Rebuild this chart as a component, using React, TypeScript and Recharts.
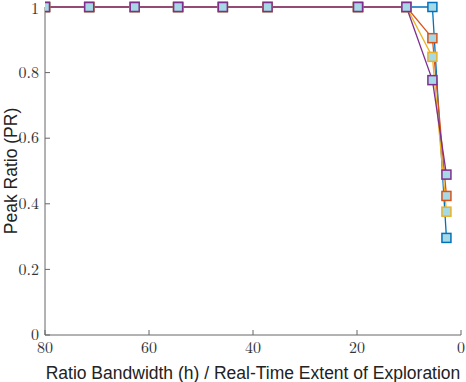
import React from "react";
import { LineChart, Line, XAxis, YAxis, Label } from "recharts";

const bandwidth = [80, 71.5, 62.75, 54.4, 45.8, 37.2, 19.8, 10.5, 5.5, 2.8];
const blueSeries = [1, 1, 1, 1, 1, 1, 1, 1, 1, 0.296];
const orangeSeries = [1, 1, 1, 1, 1, 1, 1, 1, 0.905, 0.424];
const yellowSeries = [1, 1, 1, 1, 1, 1, 1, 1, 0.848, 0.376];
const purpleSeries = [1, 1, 1, 1, 1, 1, 1, 1, 0.777, 0.489];
const xTicks = [0, 20, 40, 60, 80];
const yTicks = [0, 0.2, 0.4, 0.6, 0.8, 1];

const data = bandwidth.map((h, i) => ({
  h,
  blue: blueSeries[i],
  orange: orangeSeries[i],
  yellow: yellowSeries[i],
  purple: purpleSeries[i],
}));

const series = [
  { key: "blue", color: "#0072BD" },
  { key: "orange", color: "#D95319" },
  { key: "yellow", color: "#EDB120" },
  { key: "purple", color: "#7E2F8E" },
];

const serif = "'Latin Modern Roman', 'Liberation Serif', 'DejaVu Serif', serif";
const sans = "'Liberation Sans', Arial, sans-serif";

function XTick(props: any) {
  const { x, y, payload } = props;
  return (
    <text x={x} y={y} dy="0.75em" textAnchor="middle" fontFamily={serif} fontSize={16} fill="#333">
      {payload.value}
    </text>
  );
}

function YTick(props: any) {
  const { x, y, payload } = props;
  return (
    <text x={x} y={y} dy="0.33em" textAnchor="end" fontFamily={serif} fontSize={16} fill="#333">
      {payload.value}
    </text>
  );
}

function squareDot(color: string) {
  return (props: any) => {
    const { cx, cy, index } = props;
    if (cx == null || cy == null) return <g key={index} />;
    return (
      <rect
        key={index}
        x={cx - 4.5}
        y={cy - 4.5}
        width={9}
        height={9}
        fill="#A6D9E6"
        stroke={color}
        strokeWidth={1.5}
      />
    );
  };
}

function YLabel(props: any) {
  const vb = props.viewBox;
  const y = vb.y + vb.height / 2;
  return (
    <text
      x={11}
      y={y}
      transform={`rotate(-90, 11, ${y})`}
      textAnchor="middle"
      dominantBaseline="central"
      fontFamily={sans}
      fontSize={17.5}
      fill="#222"
    >
      Peak Ratio (PR)
    </text>
  );
}

export default function App() {
  return (
    <div style={{ position: "absolute", left: 0, top: 0, background: "#fff" }}>
      <LineChart
        width={466}
        height={382}
        data={data}
        margin={{ top: 7, right: 5, bottom: 0, left: 0 }}
      >
        <XAxis
          dataKey="h"
          type="number"
          domain={[0, 80]}
          reversed
          ticks={xTicks}
          allowDataOverflow
          height={47}
          tickSize={-5}
          tickMargin={11}
          tick={<XTick />}
          stroke="#666"
        >
          <Label
            value="Ratio Bandwidth (h) / Real-Time Extent of Exploration"
            position="insideBottom"
            offset={3}
            style={{ fontFamily: sans, fontSize: 17.5, fill: "#222" }}
          />
        </XAxis>
        <YAxis
          type="number"
          domain={[0, 1]}
          ticks={yTicks}
          width={45}
          tickSize={-5}
          tickMargin={11}
          tick={<YTick />}
          stroke="#666"
          label={<YLabel />}
        />
        {series.map((s) => (
          <Line
            key={s.key}
            dataKey={s.key}
            stroke={s.color}
            strokeWidth={1.3}
            dot={squareDot(s.color)}
            activeDot={false}
            isAnimationActive={false}
            type="linear"
          />
        ))}
      </LineChart>
    </div>
  );
}
